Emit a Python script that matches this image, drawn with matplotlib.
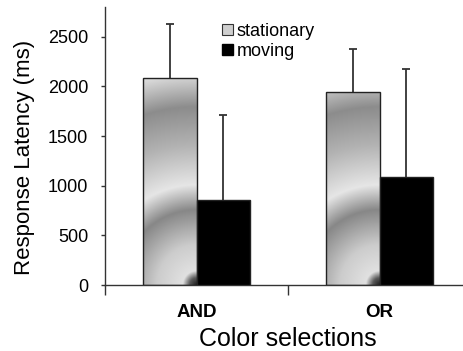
import numpy as np
import matplotlib
matplotlib.use("Agg")
import matplotlib.pyplot as plt
from matplotlib.patches import Patch

plt.rcParams["font.family"] = ["Liberation Sans", "DejaVu Sans"]

# ---- data ----
categories = ["AND", "OR"]
stationary = [2080, 1940]
stationary_err = [550, 440]
moving = [860, 1090]
moving_err = [850, 1090]

W, H, DPI = 463, 351, 100
fig = plt.figure(figsize=(W / DPI, H / DPI), dpi=DPI)
ax = fig.add_axes([105 / W, 1 - 285 / H, 366 / W, 278 / H])

x = np.arange(len(categories)) + 0.5
bw = 0.295
ax.set_xlim(0, 2)
ax.set_ylim(0, 2800)

# px per data unit (for the shaded fill)
sx = 366 / 2.0
sy = 278 / 2800.0

def shade(r):
    # radial light/dark rings around the bottom right corner
    stops = [0, 7, 14, 40, 75, 100, 140, 178, 210, 260]
    vals = [0.12, 0.35, 0.88, 0.80, 0.53, 0.90, 0.70, 0.55, 0.85, 0.88]
    return np.interp(r, stops, vals)

stat_bars = ax.bar(x - bw / 2, stationary, bw, color="none", edgecolor="#222222",
                   linewidth=1.0, zorder=3)
for b in stat_bars:
    x0, x1 = b.get_x(), b.get_x() + b.get_width()
    h = b.get_height()
    xs = np.linspace(x0, x1, 80)
    ys = np.linspace(0, h, 400)
    XX, YY = np.meshgrid(xs, ys)
    r = np.hypot((XX - x1) * sx, YY * sy)
    img = ax.imshow(shade(r), cmap="gray", vmin=0, vmax=1, origin="lower",
                    extent=[x0, x1, 0, h], aspect="auto", zorder=2,
                    interpolation="bilinear")
    img.set_clip_path(b)

ax.bar(x + bw / 2, moving, bw, color="black", edgecolor="#222222", linewidth=1.0, zorder=3)

# only the upper half of each error bar is shown
for xpos, vals, errs in [(x - bw / 2, stationary, stationary_err),
                         (x + bw / 2, moving, moving_err)]:
    eb = ax.errorbar(xpos, vals, yerr=[np.zeros(2), errs], fmt="none",
                     ecolor="#333333", elinewidth=1.3, capsize=3, capthick=1.3, zorder=1)
    eb[1][0].set_visible(False)   # lower cap sits on the bar top
ax.set_aspect("auto")

for s in ["top", "right"]:
    ax.spines[s].set_visible(False)
for s in ["left", "bottom"]:
    ax.spines[s].set_color("#333333")
    ax.spines[s].set_linewidth(1.0)

ax.set_yticks([0, 500, 1000, 1500, 2000, 2500])
ax.tick_params(axis="y", length=3, width=1.0, color="#333333", labelsize=13, pad=9)

ax.set_xticks([0, 1, 2])
ax.set_xticklabels([])
ax.tick_params(axis="x", which="major", length=7, width=1.0, color="#333333", direction="out")
ax.set_xticks(x, minor=True)
ax.set_xticklabels(categories, minor=True, fontweight="bold", fontsize=13.5)
ax.tick_params(axis="x", which="minor", length=0, pad=14)

ax.set_ylabel("Response Latency (ms)", fontsize=16)
ax.yaxis.set_label_coords(-0.19, 0.46)
ax.set_xlabel("Color selections", fontsize=18, labelpad=4)

handles = [Patch(facecolor="#cfcfcf", edgecolor="#333333", linewidth=0.8),
           Patch(facecolor="black", edgecolor="black")]
ax.legend(handles, ["stationary", "moving"], loc="upper left",
          bbox_to_anchor=(222 / W, 1 - 23 / H), bbox_transform=fig.transFigure,
          frameon=False, fontsize=13, handlelength=0.6, handleheight=0.6,
          handletextpad=0.2, labelspacing=0.15, borderpad=0, borderaxespad=0)

fig.savefig("out.png", dpi=DPI)
